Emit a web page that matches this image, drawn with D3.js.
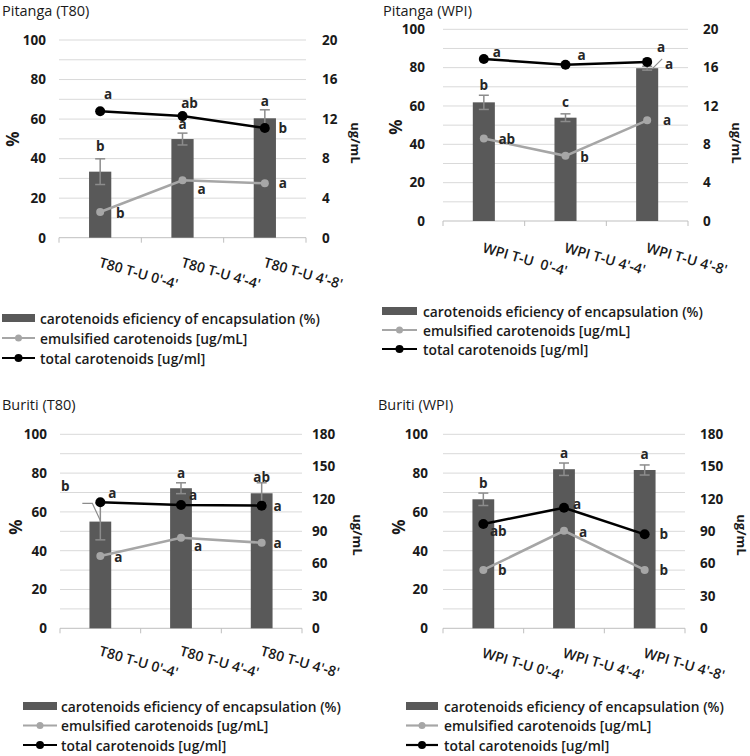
<!DOCTYPE html>
<html><head><meta charset="utf-8">
<script src="https://cdn.jsdelivr.net/npm/d3@7"></script>
<style>
body{margin:0;background:#fff;}
svg{display:block;font-family:"Open Sans",sans-serif;}
</style></head>
<body><svg id="c" width="750" height="756"></svg>
<script>
// ---------------- DATA ----------------
const catsT80 = ["T80 T-U 0'-4'", "T80 T-U 4'-4'", "T80 T-U 4'-8'"];
const catsWPItop = ["WPI T-U  0'-4'", "WPI T-U 4'-4'", "WPI T-U 4'-8'"];
const catsWPI = ["WPI T-U 0'-4'", "WPI T-U 4'-4'", "WPI T-U 4'-8'"];

const leftTicks = [0, 20, 40, 60, 80, 100];
const rightTicksPitanga = [0, 4, 8, 12, 16, 20];
const rightTicksBuriti = [0, 30, 60, 90, 120, 150, 180];

// Pitanga (T80)
const effPitT80 = [33.4, 49.9, 60.4];
const errPitT80 = [6.5, 3.0, 4.3];
const emulPitT80 = [2.6, 5.8, 5.5];
const totalPitT80 = [12.8, 12.3, 11.1];
const effLetPitT80 = ["b", "a", "a"];
const emulLetPitT80 = ["b", "a", "a"];
const totalLetPitT80 = ["a", "ab", "b"];

// Pitanga (WPI)
const effPitWPI = [61.9, 53.9, 79.7];
const errPitWPI = [3.7, 2.0, 1.0];
const emulPitWPI = [8.6, 6.8, 10.5];
const totalPitWPI = [16.9, 16.3, 16.6];
const effLetPitWPI = ["b", "c", "a"];
const emulLetPitWPI = ["ab", "b", "a"];
const totalLetPitWPI = ["a", "a", "a"];

// Buriti (T80)
const effBurT80 = [55.0, 72.2, 69.6];
const errBurT80 = [9.4, 2.8, 5.4];
const emulBurT80 = [67.1, 84.0, 79.4];
const totalBurT80 = [116.9, 114.4, 113.8];
const effLetBurT80 = ["b", "a", "ab"];
const emulLetBurT80 = ["a", "a", "a"];
const totalLetBurT80 = ["a", "a", "a"];

// Buriti (WPI)
const effBurWPI = [66.5, 82.0, 81.6];
const errBurWPI = [3.2, 3.2, 2.6];
const emulBurWPI = [54.1, 90.5, 54.1];
const totalBurWPI = [96.8, 111.9, 87.2];
const effLetBurWPI = ["b", "a", "a"];
const emulLetBurWPI = ["b", "a", "b"];
const totalLetBurWPI = ["ab", "a", "b"];

const legendLabels = ["carotenoids eficiency of encapsulation (%)", "emulsified carotenoids [ug/mL]", "total carotenoids [ug/ml]"];

// ---------------- STYLE / LAYOUT ----------------
const C = {bar:"#595959", emul:"#a6a6a6", total:"#000000", err:"#8c8c8c", grid:"#d9d9d9", axis:"#bfbfbf", text:"#1a1a1a"};

const panels = [
 {title:"Pitanga (T80)", tx:2, ty:16, x0:59, x1:306, yT:40, yB:237.7, rTicks:rightTicksPitanga,
  cats:catsT80, eff:effPitT80, err:errPitT80, emul:emulPitT80, total:totalPitT80,
  effLet:effLetPitT80, emulLet:emulLetPitT80, totalLet:totalLetPitT80,
  effOff:[[0,-13],[0,-9],[0,-9]], emulOff:[[20,1],[19,9],[18,0]], totalOff:[[8,-17],[7,-13],[18,0]],
  lp:13, rp:16, pctX:12, pctY:139, ugX:356, ugY:143, xlDy:29,
  lg:{sx:2, sw:33, tx:40, ys:[318,338,358]}},
 {title:"Pitanga (WPI)", tx:383, ty:15.5, x0:443, x1:688, yT:29.3, yB:221, rTicks:rightTicksPitanga,
  cats:catsWPItop, eff:effPitWPI, err:errPitWPI, emul:emulPitWPI, total:totalPitWPI,
  effLet:effLetPitWPI, emulLet:emulLetPitWPI, totalLet:totalLetPitWPI,
  effOff:[[0,-10],[0,-12],[14,-19]], emulOff:[[23,0],[19,1],[20,0]], totalOff:[[13,-7],[16,-10],[22,2]],
  lp:18, rp:15, pctX:395, pctY:127, ugX:737, ugY:143, xlDy:31,
  lg:{sx:382, sw:35, tx:423, ys:[311,330,349]}},
 {title:"Buriti (T80)", tx:2, ty:410, x0:60, x1:302, yT:434.3, yB:628.3, rTicks:rightTicksBuriti,
  cats:catsT80, eff:effBurT80, err:errBurT80, emul:emulBurT80, total:totalBurT80,
  effLet:effLetBurT80, emulLet:emulLetBurT80, totalLet:totalLetBurT80,
  effOff:[[-35,-17],[0,-10],[0,-6]], emulOff:[[18,1],[17,8],[16,0]], totalOff:[[12,-9],[12,-10],[16,0]],
  lp:13, rp:10, pctX:15, pctY:527, ugX:358, ugY:535, xlDy:27,
  lg:{sx:23, sw:34, tx:61, ys:[706,725.5,745]}},
 {title:"Buriti (WPI)", tx:378, ty:410, x0:443, x1:685, yT:434.3, yB:628.3, rTicks:rightTicksBuriti,
  cats:catsWPI, eff:effBurWPI, err:errBurWPI, emul:emulBurWPI, total:totalBurWPI,
  effLet:effLetBurWPI, emulLet:emulLetBurWPI, totalLet:totalLetBurWPI,
  effOff:[[0,-10],[0,-10],[0,-11]], emulOff:[[19,0],[19,1],[19,0]], totalOff:[[15,7],[13,-4],[19,0]],
  lp:15, rp:15, pctX:398, pctY:527, ugX:742, ugY:535, xlDy:29,
  lg:{sx:406, sw:32, tx:444, ys:[706,725.5,745]}}
];

const svg = d3.select("#c");

panels.forEach((p, pi) => {
  const g = svg.append("g");
  const x = d3.scaleBand().domain(p.cats).range([p.x0, p.x1]);
  const yL = d3.scaleLinear().domain([0, 100]).range([p.yB, p.yT]);
  const rMax = p.rTicks[p.rTicks.length - 1];
  const yR = d3.scaleLinear().domain([0, rMax]).range([p.yB, p.yT]);
  const bw = x.bandwidth() * 0.27;
  const cx = c => x(c) + x.bandwidth() / 2;

  // title
  g.append("text").attr("x", p.tx).attr("y", p.ty).attr("font-size", 14.5).attr("fill", C.text).text(p.title);

  // gridlines every 10%
  g.append("g").selectAll("line").data(d3.range(10, 101, 10)).join("line")
    .attr("x1", p.x0).attr("x2", p.x1).attr("y1", d => yL(d)).attr("y2", d => yL(d))
    .attr("stroke", C.grid).attr("stroke-width", 1);

  // left axis
  const la = g.append("g").attr("transform", `translate(${p.x0},0)`)
    .call(d3.axisLeft(yL).tickValues(leftTicks).tickSize(0).tickPadding(p.lp));
  la.select(".domain").remove();
  la.selectAll("text").attr("font-size", 13.5).attr("font-weight", 700).attr("fill", C.text).attr("font-family", "Open Sans");

  // right axis
  const ra = g.append("g").attr("transform", `translate(${p.x1},0)`)
    .call(d3.axisRight(yR).tickValues(p.rTicks).tickSize(0).tickPadding(p.rp));
  ra.select(".domain").remove();
  ra.selectAll("text").attr("font-size", 13.5).attr("font-weight", 700).attr("fill", C.text).attr("font-family", "Open Sans");

  // x axis line and ticks
  g.append("line").attr("x1", p.x0).attr("x2", p.x1).attr("y1", p.yB).attr("y2", p.yB).attr("stroke", C.axis);
  const edges = p.cats.map(c => x(c)).concat([p.x1]);
  g.append("g").selectAll("line").data(edges).join("line")
    .attr("x1", d => d).attr("x2", d => d).attr("y1", p.yB).attr("y2", p.yB + 5).attr("stroke", C.axis);

  // x labels
  g.append("g").selectAll("text").data(p.cats).join("text")
    .attr("transform", c => `translate(${cx(c) - 2},${p.yB + p.xlDy}) rotate(16)`)
    .attr("font-size", 14).attr("font-weight", 600).attr("fill", C.text)
    .attr("xml:space", "preserve").style("white-space", "pre").text(c => c);

  // axis titles
  g.append("text").attr("transform", `translate(${p.pctX},${p.pctY}) rotate(-90)`)
    .attr("text-anchor", "middle").attr("dominant-baseline", "central")
    .attr("font-size", 17).attr("font-weight", 700).attr("fill", C.text).text("%");
  g.append("text").attr("transform", `translate(${p.ugX},${p.ugY}) rotate(90)`)
    .attr("text-anchor", "middle").attr("dominant-baseline", "central")
    .attr("font-size", 13).attr("font-weight", 700).attr("fill", C.text).text("ug/mL");

  // bars
  g.append("g").selectAll("rect").data(p.eff).join("rect")
    .attr("x", (d, i) => cx(p.cats[i]) - bw / 2).attr("width", bw)
    .attr("y", d => yL(d)).attr("height", d => p.yB - yL(d)).attr("fill", C.bar);

  // error bars
  const eg = g.append("g").attr("stroke", C.err).attr("stroke-width", 1.5);
  p.eff.forEach((d, i) => {
    const c = cx(p.cats[i]), t = yL(d + p.err[i]), b = yL(d - p.err[i]);
    eg.append("line").attr("x1", c).attr("x2", c).attr("y1", t).attr("y2", b);
    eg.append("line").attr("x1", c - 5).attr("x2", c + 5).attr("y1", t).attr("y2", t);
    eg.append("line").attr("x1", c - 5).attr("x2", c + 5).attr("y1", b).attr("y2", b);
  });

  // leader lines (data label callouts)
  if (pi === 2) {
    const c = cx(p.cats[0]);
    g.append("path").attr("fill", "none").attr("stroke", C.err).attr("stroke-width", 1.2)
      .attr("d", `M${c - 18},${yL(p.eff[0] + p.err[0])} H${c - 8} L${c},${yL(p.eff[0]) - 1}`);
  }
  if (pi === 1) {
    const c = cx(p.cats[2]);
    g.append("line").attr("stroke", C.err).attr("stroke-width", 1.2)
      .attr("x1", c + 5).attr("y1", yR(p.total[2]) + 7).attr("x2", c + 15).attr("y2", yR(p.total[2]) - 3);
  }

  // lines
  const line = d3.line().x((d, i) => cx(p.cats[i])).y(d => yR(d));
  [[p.emul, C.emul, 4], [p.total, C.total, 5]].forEach(([arr, col, r]) => {
    g.append("path").datum(arr).attr("d", line).attr("fill", "none").attr("stroke", col).attr("stroke-width", 2.5);
    g.append("g").selectAll("circle").data(arr).join("circle")
      .attr("cx", (d, i) => cx(p.cats[i])).attr("cy", d => yR(d)).attr("r", r).attr("fill", col);
  });

  // letters
  const lt = g.append("g").attr("font-size", 13.5).attr("font-weight", 700).attr("fill", "#262626")
    .attr("text-anchor", "middle").attr("dominant-baseline", "central");
  p.eff.forEach((d, i) => {
    lt.append("text").attr("x", cx(p.cats[i]) + p.effOff[i][0]).attr("y", yL(d + p.err[i]) + p.effOff[i][1]).text(p.effLet[i]);
  });
  p.emul.forEach((d, i) => {
    lt.append("text").attr("x", cx(p.cats[i]) + p.emulOff[i][0]).attr("y", yR(d) + p.emulOff[i][1]).text(p.emulLet[i]);
  });
  p.total.forEach((d, i) => {
    lt.append("text").attr("x", cx(p.cats[i]) + p.totalOff[i][0]).attr("y", yR(d) + p.totalOff[i][1]).text(p.totalLet[i]);
  });

  // legend
  const L = p.lg;
  const lg = g.append("g");
  lg.append("rect").attr("x", L.sx).attr("y", L.ys[0] - 4).attr("width", L.sw).attr("height", 8).attr("fill", C.bar);
  [[C.emul, 3.5, L.ys[1]], [C.total, 4, L.ys[2]]].forEach(([col, r, yy]) => {
    lg.append("line").attr("x1", L.sx).attr("x2", L.sx + L.sw).attr("y1", yy).attr("y2", yy).attr("stroke", col).attr("stroke-width", 2.2);
    lg.append("circle").attr("cx", L.sx + L.sw / 2).attr("cy", yy).attr("r", r).attr("fill", col);
  });
  legendLabels.forEach((t, i) => {
    lg.append("text").attr("x", L.tx).attr("y", L.ys[i]).attr("dominant-baseline", "central")
      .attr("font-size", 13.8).attr("font-weight", 600).attr("fill", C.text).text(t);
  });
});
</script></body></html>
